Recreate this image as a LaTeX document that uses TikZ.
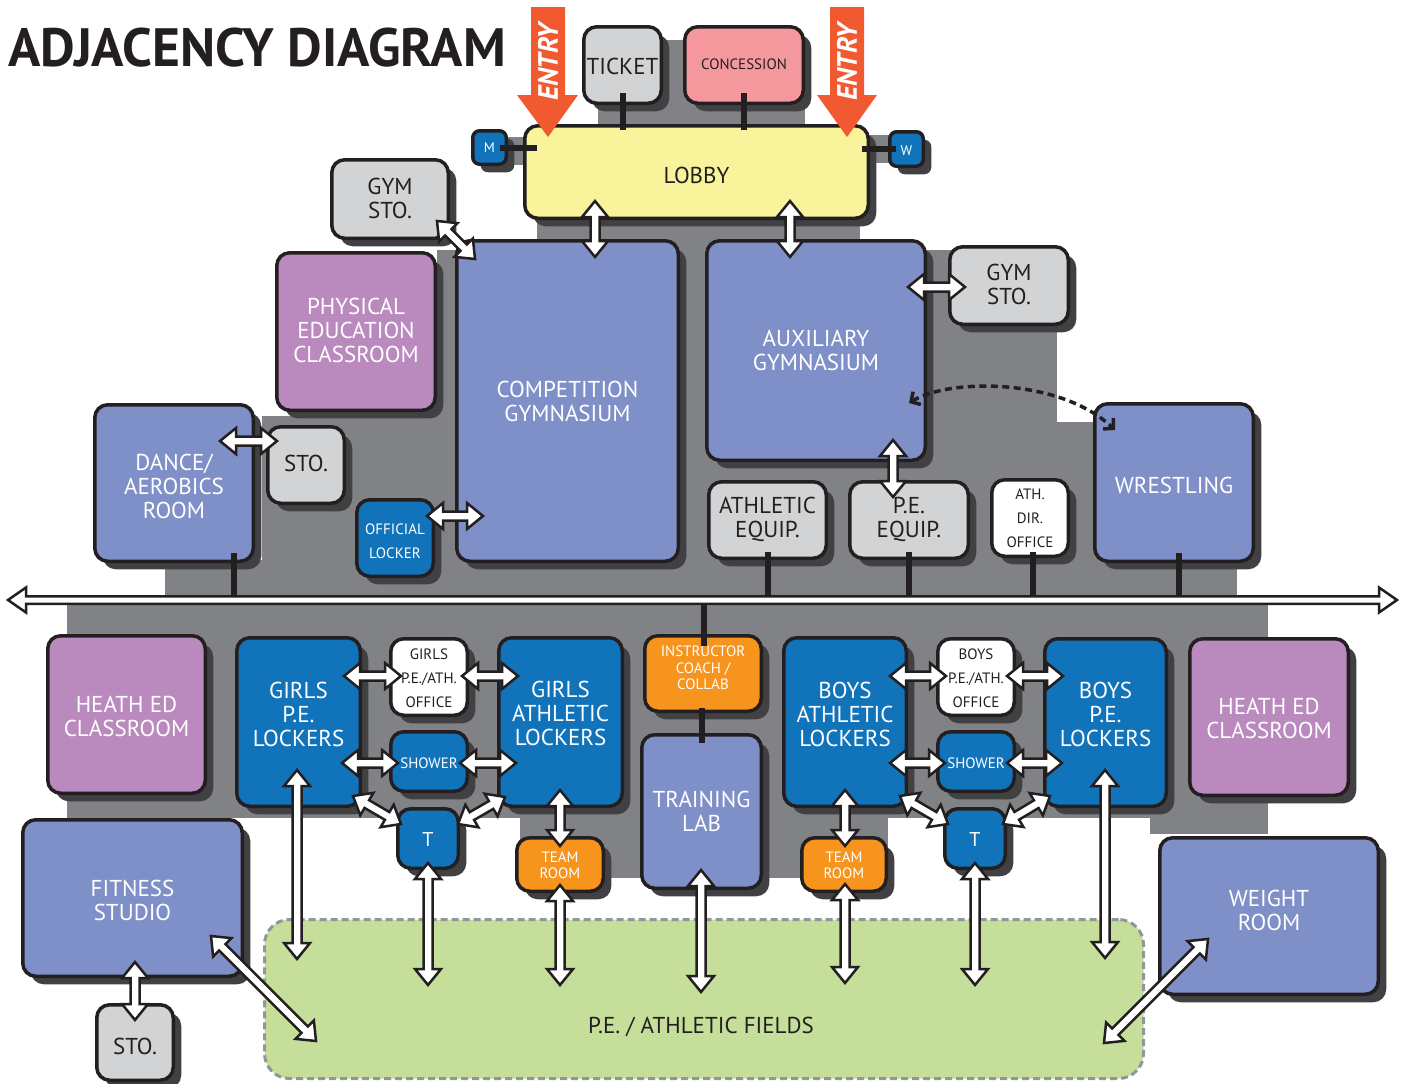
\documentclass[tikz,border=0pt]{standalone}
\usepackage{fontspec}
\setmainfont{PT Sans}
\usetikzlibrary{calc,shadows,arrows.meta}
\definecolor{bgC}{HTML}{808285}
\definecolor{shC}{HTML}{414042}
\definecolor{lnC}{HTML}{231F20}
\definecolor{periC}{HTML}{7F8FC7}
\definecolor{purpC}{HTML}{BA89BD}
\definecolor{blueC}{HTML}{1174BB}
\definecolor{gryC}{HTML}{D1D3D4}
\definecolor{pinkC}{HTML}{F4989E}
\definecolor{yelC}{HTML}{F9F39B}
\definecolor{oraC}{HTML}{F7941E}
\definecolor{grnC}{HTML}{C5DF9B}
\definecolor{dashC}{HTML}{939598}
\definecolor{redC}{HTML}{F15A31}
\newcommand\bigf{\fontsize{23}{24}\selectfont}
\newcommand\smf{\fontsize{15}{24}\selectfont}
\newcommand\smtf{\fontsize{15}{16.5}\selectfont}
\tikzset{
  box/.style={draw=lnC, line width=3.5pt, rounded corners=13pt, inner sep=0pt,
    drop shadow={shadow xshift=8pt, shadow yshift=-8pt, fill=shC, opacity=1}},
  smallbox/.style={rounded corners=7pt},
  fperi/.style={fill=periC}, fpurp/.style={fill=purpC}, fblue/.style={fill=blueC},
  fgry/.style={fill=gryC}, fpink/.style={fill=pinkC}, fyel/.style={fill=yelC},
  fora/.style={fill=oraC}, fwht/.style={fill=white},
  wbig/.style={text=white, font=\bigf, align=center, inner sep=0pt},
  dbig/.style={text=lnC, font=\bigf, align=center, inner sep=0pt},
  wsm/.style={text=white, font=\smf, align=center, inner sep=0pt},
  dsm/.style={text=lnC, font=\smf, align=center, inner sep=0pt},
  wsmt/.style={text=white, font=\smtf, align=center, inner sep=0pt},
  wm/.style={text=white, font=\fontsize{14}{14}\selectfont, inner sep=0pt},
  wt/.style={text=white, font=\fontsize{20}{20}\selectfont, inner sep=0pt},
  conn/.style={draw=lnC, line width=6pt},
  blockarrow/.style={draw=lnC, fill=white, line width=2.5pt, line join=miter, miter limit=10},
  dasharr/.style={draw=lnC, line width=3.5pt, dash pattern=on 7pt off 4.5pt,
    arrows={Straight Barb[length=7pt,width=15pt]-Straight Barb[length=7pt,width=15pt]}},
  fieldbox/.style={fill=grnC, draw=dashC, line width=3pt, dash pattern=on 7pt off 4pt, rounded corners=25pt, inner sep=0pt}
}
\newcommand\room[9]{%
  \pgfmathsetmacro\rw{#4-#2-3.5}%
  \pgfmathsetmacro\rh{#5-#3-3.5}%
  \node[box,#6,minimum width=\rw pt,minimum height=\rh pt] (#1) at ({(#2+#4)/2},{(#3+#5)/2}) {};
  \node[#7] (#1-t) at ({(#2+#4)/2},#9) {#8};
}
\newcommand\dbab[5]{%
  \path let \p1=($(#2)-(#1)$), \n1={atan2(\y1,\x1)}, \n2={veclen(\x1,\y1)} in
    \pgfextra{\xdef\dbaang{\n1}\xdef\dbalen{\n2}};
  \draw[blockarrow, shift={(#1)}, rotate=\dbaang] (0,0) -- (#3,-#4) -- (#3,-#5) -- ({\dbalen-#3},-#5) -- ({\dbalen-#3},-#4) -- (\dbalen,0) -- ({\dbalen-#3},#4) -- ({\dbalen-#3},#5) -- (#3,#5) -- (#3,#4) -- cycle;
}
\newcommand\dba[2]{\dbab{#1}{#2}{16}{13}{4.5}}
\begin{document}
\begin{tikzpicture}[x=1pt,y=-1pt]
\useasboundingbox (0,0) rectangle (1403,1084);
% background
\fill[bgC] (598,40) rectangle (805,130);
\fill[bgC] (505,137) rectangle (530,165);
\fill[bgC] (865,135) rectangle (892,163);
\fill[bgC] (537,212) rectangle (860,250);
\fill[bgC] (437,250) rectangle (1057,598);
\fill[bgC] (262,416) rectangle (440,598);
\fill[bgC] (165,560) rectangle (1237,598);
\fill[bgC] (1057,422) rectangle (1237,598);
\fill[bgC] (67,600) rectangle (1268,818);
\fill[bgC] (520,600) rectangle (888,878);
\fill[bgC] (1150,600) rectangle (1268,834);
% fields
\node[fieldbox, minimum width=879pt, minimum height=159pt] (fields) at (704,999) {};
\node[dbig] (fields-t) at (701,1027) {P.E. / ATHLETIC FIELDS};
% rooms
\room{ticket}{582}{25}{663}{105}{fgry}{dbig}{TICKET}{66}
\room{concession}{683}{25}{805}{105}{fpink}{dsm}{CONCESSION}{64}
\room{lobby}{523}{124}{870}{220}{fyel}{dbig}{LOBBY}{175}
\room{mroom}{471}{129}{508}{166}{fblue,smallbox}{wm}{M}{148}
\room{wroom}{888}{130}{925}{168}{fblue,smallbox}{wm}{W}{151}
\room{gymstoL}{330}{158}{450}{240}{fgry}{dbig}{GYM\\STO.}{198}
\room{peclass}{275}{251}{437}{412}{fpurp}{wbig}{PHYSICAL\\EDUCATION\\CLASSROOM}{330}
\room{compgym}{455}{239}{680}{563}{fperi}{wbig}{COMPETITION\\GYMNASIUM}{401}
\room{auxgym}{705}{239}{927}{462}{fperi}{wbig}{AUXILIARY\\GYMNASIUM}{350}
\room{gymstoR}{948}{245}{1070}{326}{fgry}{dbig}{GYM\\STO.}{284}
\room{dance}{93}{403}{255}{563}{fperi}{wbig}{DANCE/\\AEROBICS\\ROOM}{486}
\room{stoA}{266}{425}{346}{505}{fgry}{dbig}{STO.}{463}
\room{official}{355}{498}{435}{578}{fblue}{wsm}{OFFICIAL\\LOCKER}{541}
\room{athequip}{707}{480}{828}{560}{fgry}{dbig}{ATHLETIC\\EQUIP.}{519}
\room{peequip}{848}{480}{970}{560}{fgry}{dbig}{P.E.\\EQUIP.}{519}
\room{athdir}{990}{478}{1070}{558}{fwht}{dsm}{ATH.\\DIR.\\OFFICE}{518}
\room{wrestling}{1093}{402}{1255}{563}{fperi}{wbig}{WRESTLING}{485}
\room{heathL}{46}{634}{207}{795}{fpurp}{wbig}{HEATH ED\\CLASSROOM}{716}
\room{girlspe}{235}{636}{362}{808}{fblue}{wbig}{GIRLS\\P.E.\\LOCKERS}{714}
\room{girlsoff}{389}{637}{469}{717}{fwht}{dsm}{GIRLS\\P.E./ATH.\\OFFICE}{678}
\room{girlsshow}{389}{730}{469}{793}{fblue}{wsm}{SHOWER}{763}
\room{girlsath}{497}{636}{624}{808}{fblue}{wbig}{GIRLS\\ATHLETIC\\LOCKERS}{713}
\room{girlsT}{396}{807}{460}{870}{fblue}{wt}{T}{839}
\room{girlsteam}{515}{836}{605}{893}{fora}{wsmt}{TEAM\\ROOM}{865}
\room{instr}{643}{634}{763}{713}{fora}{wsmt}{INSTRUCTOR\\COACH /\\COLLAB}{668}
\room{training}{640}{733}{763}{890}{fperi}{wbig}{TRAINING\\LAB}{811}
\room{boysath}{782}{636}{908}{808}{fblue}{wbig}{BOYS\\ATHLETIC\\LOCKERS}{714}
\room{boysoff}{936}{637}{1016}{717}{fwht}{dsm}{BOYS\\P.E./ATH.\\OFFICE}{678}
\room{boysshow}{936}{730}{1016}{793}{fblue}{wsm}{SHOWER}{763}
\room{boyspe}{1043}{637}{1168}{808}{fblue}{wbig}{BOYS\\P.E.\\LOCKERS}{714}
\room{heathR}{1188}{637}{1350}{797}{fpurp}{wbig}{HEATH ED\\CLASSROOM}{718}
\room{boysT}{943}{807}{1007}{870}{fblue}{wt}{T}{839}
\room{boysteam}{800}{836}{888}{893}{fora}{wsmt}{TEAM\\ROOM}{865}
\room{fitness}{21}{818}{244}{978}{fperi}{wbig}{FITNESS\\STUDIO}{900}
\room{stoB}{95}{1003}{175}{1082}{fgry}{dbig}{STO.}{1046}
\room{weight}{1158}{836}{1380}{996}{fperi}{wbig}{WEIGHT\\ROOM}{910}
% corridor ends
\coordinate (corL) at (8,600);
\coordinate (corR) at (1397,600);
% black connectors
\draw[conn] ($(ticket.south)+(0,-12)$) -- ($(ticket.south |- lobby.north)+(0,6)$);
\draw[conn] ($(concession.south)+(0,-12)$) -- ($(concession.south |- lobby.north)+(0,6)$);
\draw[conn] ($(mroom.east)+(-8,0)$) -- ($(mroom.east -| lobby.west)+(14,0)$);
\draw[conn] ($(wroom.west)+(8,0)$) -- ($(wroom.west -| lobby.east)+(-8,0)$);
\draw[conn] ($(dance.south)+(60,-10)$) coordinate (cq1) -- (cq1 |- corL);
\draw[conn] ($(athequip.south)+(0,-8)$) coordinate (cq2) -- (cq2 |- corL);
\draw[conn] ($(peequip.south)+(0,-8)$) coordinate (cq3) -- (cq3 |- corL);
\draw[conn] ($(athdir.south)+(3,-6)$) coordinate (cq4) -- (cq4 |- corL);
\draw[conn] ($(wrestling.south)+(5,-10)$) coordinate (cq5) -- (cq5 |- corL);
\draw[conn] ($(instr.north)+(1,12)$) coordinate (cq6) -- (cq6 |- corL);
\draw[conn] ($(instr.south -| training.north)+(0,-5)$) -- ($(training.north)+(0,10)$);
% corridor
\dbab{corL}{corR}{18}{12.5}{3.75}
% arrow end points
\coordinate (a1a) at (437,221); \coordinate (a1b) at (475,259);
\coordinate (a2a) at (595,201); \coordinate (a2b) at (595,257);
\coordinate (a3a) at (790,201); \coordinate (a3b) at (790,257);
\coordinate (a4a) at (908,287); \coordinate (a4b) at (965,287);
\coordinate (a5a) at (220,441); \coordinate (a5b) at (277,441);
\coordinate (a6a) at (427,516); \coordinate (a6b) at (483,516);
\coordinate (a7a) at (893,440); \coordinate (a7b) at (893,497);
\coordinate (b1a) at (344,676); \coordinate (b1b) at (401,676);
\coordinate (b2a) at (462,676); \coordinate (b2b) at (518,676);
\coordinate (b3a) at (342,763); \coordinate (b3b) at (398,763);
\coordinate (b4a) at (460,763); \coordinate (b4b) at (516,763);
\coordinate (b5a) at (353,796); \coordinate (b5b) at (401,824);
\coordinate (b6a) at (505,797); \coordinate (b6b) at (458,824);
\coordinate (b7a) at (297,770); \coordinate (b7b) at (297,959);
\coordinate (b8a) at (428,863); \coordinate (b8b) at (428,985);
\coordinate (b9a) at (560,790); \coordinate (b9b) at (560,846);
\coordinate (b10a) at (560,885); \coordinate (b10b) at (560,985);
\coordinate (b11a) at (701,870); \coordinate (b11b) at (701,992);
\coordinate (b12a) at (135,962); \coordinate (b12b) at (135,1020);
\coordinate (b13a) at (211,936); \coordinate (b13b) at (316,1041);
\coordinate (c1a) at (890,676); \coordinate (c1b) at (946,676);
\coordinate (c2a) at (1007,676); \coordinate (c2b) at (1063,676);
\coordinate (c3a) at (890,763); \coordinate (c3b) at (945,763);
\coordinate (c4a) at (1007,763); \coordinate (c4b) at (1062,763);
\coordinate (c5a) at (900,796); \coordinate (c5b) at (948,824);
\coordinate (c6a) at (1050,796); \coordinate (c6b) at (1003,824);
\coordinate (c7a) at (845,790); \coordinate (c7b) at (845,846);
\coordinate (c8a) at (845,884); \coordinate (c8b) at (845,983);
\coordinate (c9a) at (975,863); \coordinate (c9b) at (975,985);
\coordinate (c10a) at (1105,770); \coordinate (c10b) at (1105,958);
\coordinate (c11a) at (1208,939); \coordinate (c11b) at (1104,1043);
\dba{a1a}{a1b} \dba{a2a}{a2b} \dba{a3a}{a3b} \dba{a4a}{a4b}
\dba{a5a}{a5b} \dba{a6a}{a6b} \dba{a7a}{a7b}
\dba{b1a}{b1b} \dba{b2a}{b2b} \dba{b3a}{b3b} \dba{b4a}{b4b}
\dba{b5a}{b5b} \dba{b6a}{b6b} \dba{b7a}{b7b} \dba{b8a}{b8b}
\dba{b9a}{b9b} \dba{b10a}{b10b} \dba{b11a}{b11b} \dba{b12a}{b12b}
\dba{b13a}{b13b}
\dba{c1a}{c1b} \dba{c2a}{c2b} \dba{c3a}{c3b} \dba{c4a}{c4b}
\dba{c5a}{c5b} \dba{c6a}{c6b} \dba{c7a}{c7b} \dba{c8a}{c8b}
\dba{c9a}{c9b} \dba{c10a}{c10b} \dba{c11a}{c11b}
% dashed curved link
\coordinate (dqa) at (909,403); \coordinate (dqb) at (1115,430);
\draw[dasharr] (dqa) .. controls (950,378) and (1060,378) .. (dqb);
% entry arrows
\fill[redC] (531,7) -- (565,7) -- (565,95) -- (578,95) -- (548,137) -- (517,95) -- (531,95) -- cycle;
\fill[redC] (830,7) -- (864,7) -- (864,95) -- (877,95) -- (847,137) -- (817,95) -- (830,95) -- cycle;
\node[rotate=90, inner sep=0pt, text=white, font=\fontsize{28}{28}\selectfont\bfseries\itshape] (entry1) at (548,62) {ENTRY};
\node[rotate=90, inner sep=0pt, text=white, font=\fontsize{28}{28}\selectfont\bfseries\itshape] (entry2) at (847,62) {ENTRY};
% title
\node[anchor=base west, inner sep=0pt, text=lnC] (title) at (8,66) {\scalebox{0.99}[1]{\fontsize{54}{54}\selectfont\bfseries ADJACENCY DIAGRAM}};
\end{tikzpicture}
\end{document}
